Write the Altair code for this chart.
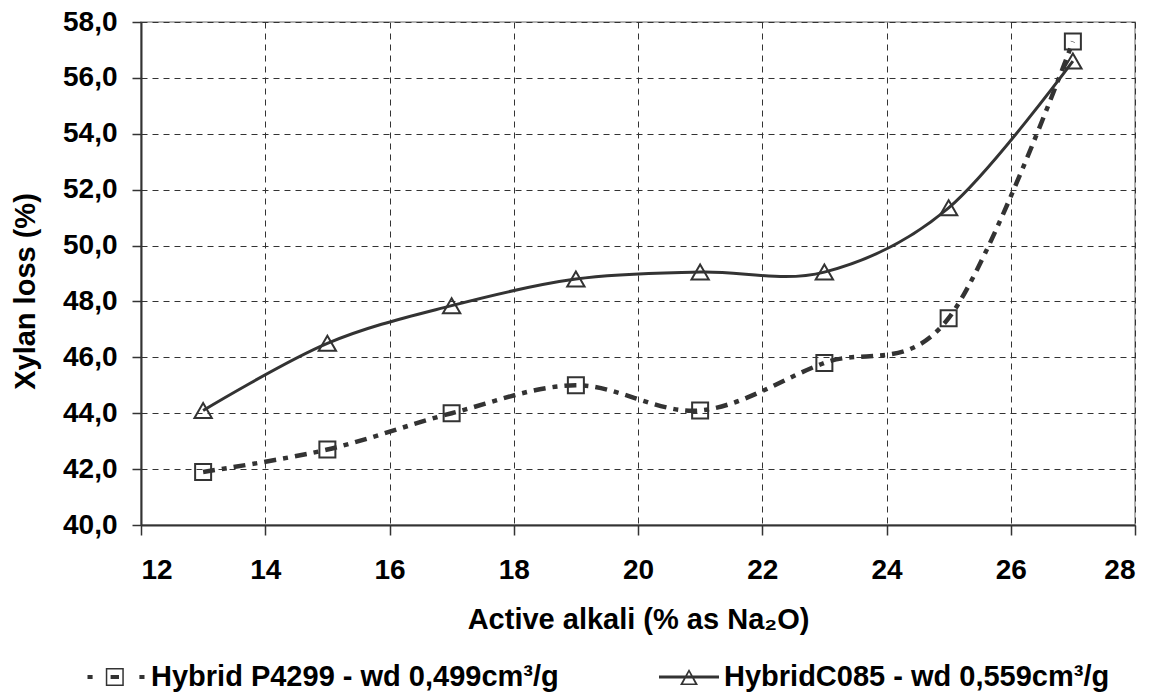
import altair as alt
import pandas as pd

# ---- data ----
alkali = [13, 15, 17, 19, 21, 23, 25, 27]
p4299 = [41.9, 42.7, 44.0, 45.0, 44.1, 45.8, 47.4, 57.3]
c085 = [44.1, 46.5, 47.85, 48.8, 49.05, 49.05, 51.35, 56.6]
series_names = ["Hybrid P4299 - wd 0,499cm³/g", "HybridC085 - wd 0,559cm³/g"]
x_ticks = [12, 14, 16, 18, 20, 22, 24, 26, 28]
y_ticks = [40, 42, 44, 46, 48, 50, 52, 54, 56, 58]

rows = []
for xv, a, b in zip(alkali, p4299, c085):
    rows.append({"x": xv, "y": a, "series": series_names[0]})
    rows.append({"x": xv, "y": b, "series": series_names[1]})
df = pd.DataFrame(rows)

FONT = "Liberation Sans, Arial, sans-serif"
INK = "#333333"

x_enc = alt.X(
    "x:Q",
    scale=alt.Scale(domain=[12, 28], nice=False, zero=False),
    axis=alt.Axis(
        values=x_ticks,
        format="d",
        title="Active alkali (% as Na₂O)",
        titleFont=FONT, titleFontSize=29, titleFontWeight="bold", titleColor="black",
        titleBaseline="alphabetic", titleY=103,
        labelFont=FONT, labelFontSize=28, labelFontWeight="bold", labelColor="black",
        labelPadding=21, tickSize=10, tickColor=INK, tickWidth=1.5,
        domainColor=INK, domainWidth=2,
        grid=True, gridDash=[6, 5], gridColor="#333333", gridWidth=1,
    ),
)
y_enc = alt.Y(
    "y:Q",
    scale=alt.Scale(domain=[40, 58], nice=False, zero=False),
    axis=alt.Axis(
        values=y_ticks,
        labelExpr="replace(format(datum.value, '.1f'), '.', ',')",
        title="Xylan loss (%)",
        titleFont=FONT, titleFontSize=29, titleFontWeight="bold", titleColor="black",
        titleX=-116, titleY=269, titleBaseline="middle", titleAngle=270,
        labelFont=FONT, labelFontSize=28, labelFontWeight="bold", labelColor="black",
        labelPadding=15, tickSize=9, tickColor=INK, tickWidth=1.5,
        domainColor=INK, domainWidth=2,
        grid=True, gridDash=[6, 5], gridColor="#333333", gridWidth=1,
    ),
)

base = alt.Chart(df)

line_p = base.transform_filter(alt.datum.series == series_names[0]).mark_line(
    interpolate="cardinal", color=INK, strokeWidth=4.5, strokeDash=[12, 7, 5, 7], strokeCap="butt"
).encode(x=x_enc, y=y_enc)

line_c = base.transform_filter(alt.datum.series == series_names[1]).mark_line(
    interpolate="cardinal", color=INK, strokeWidth=3
).encode(x="x:Q", y="y:Q")

pts_p = base.transform_filter(alt.datum.series == series_names[0]).mark_point(
    shape="square", size=256, filled=False, color=INK, strokeWidth=2, opacity=1
).encode(x="x:Q", y="y:Q")

pts_c = base.transform_filter(alt.datum.series == series_names[1]).mark_point(
    shape="triangle-up", size=300, filled=False, color=INK, strokeWidth=2, opacity=1
).encode(x="x:Q", y="y:Q")

# legend symbols (line + marker) as custom symbol paths
sym_p = (
    "M-0.95,-0.07H-0.78V0.07H-0.95Z "
    "M-0.34,-0.3H0.26V0.3H-0.34Z M-0.29,-0.25V0.25H0.21V-0.25Z "
    "M-0.18,-0.07H0.1V0.07H-0.18Z "
    "M0.78,-0.07H0.95V0.07H0.78Z"
)
sym_c = (
    "M-1,-0.05H1V0.05H-1Z "
    "M0,-0.27L0.3,0.27L-0.3,0.27Z M0,-0.16L-0.2,0.22L0.2,0.22Z"
)

legend_layer = base.mark_point(filled=True, color=INK, opacity=0, strokeWidth=0).encode(
    x="x:Q",
    y="y:Q",
    shape=alt.Shape(
        "series:N",
        scale=alt.Scale(domain=series_names, range=[sym_p, sym_c]),
        legend=alt.Legend(
            title=None,
            orient="none",
            legendX=-55,
            legendY=625,
            direction="horizontal",
            symbolSize=3600,
            symbolFillColor=INK,
            symbolStrokeColor=INK,
            symbolStrokeWidth=0,
            symbolOpacity=1,
            labelFont=FONT,
            labelFontSize=29,
            labelFontWeight="bold",
            labelColor="black",
            labelOffset=5,
            labelLimit=0,
            columnPadding=100,
            padding=0,
        ),
    ),
)

chart = (
    alt.layer(line_p, line_c, pts_p, pts_c, legend_layer)
    .properties(
        width=994,
        height=503,
        autosize=alt.AutoSizeParams(type="none"),
        padding={"left": 133, "top": 14, "right": 12, "bottom": 172},
        background="white",
    )
    .configure_view(stroke="#9a9a9a", strokeWidth=1.5)
)

chart.save("out.html", embed_options={"renderer": "svg", "actions": False})
